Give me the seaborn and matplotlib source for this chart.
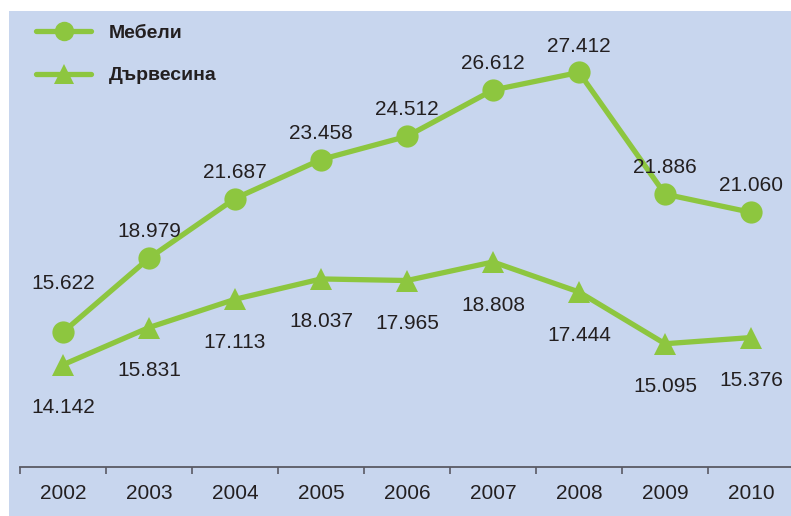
import numpy as np
import pandas as pd
import matplotlib
matplotlib.use('Agg')
import matplotlib.pyplot as plt
from matplotlib.patches import Rectangle
from matplotlib.lines import Line2D
import seaborn as sns

years = [2002, 2003, 2004, 2005, 2006, 2007, 2008, 2009, 2010]
furniture = [15.622, 18.979, 21.687, 23.458, 24.512, 26.612, 27.412, 21.886, 21.060]
wood = [14.142, 15.831, 17.113, 18.037, 17.965, 18.808, 17.444, 15.095, 15.376]
series_names = ['Мебели', 'Дървесина']

green = '#8dc63f'
panel = '#c8d6ee'
text_col = '#231f20'

df = pd.concat([
    pd.DataFrame({'year': years, 'value': furniture, 'series': series_names[0]}),
    pd.DataFrame({'year': years, 'value': wood, 'series': series_names[1]}),
])

sns.set_style('white')
plt.rcParams['font.family'] = ['Liberation Sans', 'DejaVu Sans']

fig = plt.figure(figsize=(7.91, 5.16), dpi=100)
fig.patches.append(Rectangle((9 / 791, 0), 1, (516 - 11) / 516, transform=fig.transFigure,
                             facecolor=panel, edgecolor='none', zorder=-10))
ax = fig.add_axes([20 / 791, 49 / 516, 771 / 791, 456 / 516])
ax.set_facecolor('none')
ax.set_zorder(1)

sns.lineplot(data=df, x='year', y='value', style='series', markers=['o', '^'],
             dashes=False, color=green, linewidth=3.8, markersize=16,
             markeredgewidth=0, ax=ax, legend=False)

ax.set_xlim(2001.5, 2010.465)
ax.set_ylim(9.5, 30.2)

# value labels
for i, (y, v) in enumerate(zip(years, furniture)):
    off = 35 if i == 0 else 19
    ax.annotate(f'{v:.3f}', (y, v), xytext=(0, off), textcoords='offset points',
                ha='center', va='center', fontsize=15, color=text_col)
for y, v in zip(years, wood):
    ax.annotate(f'{v:.3f}', (y, v), xytext=(0, -31), textcoords='offset points',
                ha='center', va='center', fontsize=15, color=text_col)

# axis styling
for s in ['top', 'right', 'left']:
    ax.spines[s].set_visible(False)
ax.spines['bottom'].set_color('#5a5a64')
ax.spines['bottom'].set_linewidth(1.3)
ax.set_yticks([])
ax.set_xticks(years)
ax.set_xticklabels([str(y) for y in years], fontsize=15, color=text_col)
ax.set_xticks(np.array(years) - 0.5, minor=True)
ax.tick_params(axis='x', which='major', bottom=True, length=0, pad=12)
ax.tick_params(axis='x', which='minor', bottom=True, length=5, width=1.2,
               color='#5a5a64', direction='out')
ax.set_xlabel('')
ax.set_ylabel('')

handles = [Line2D([], [], color=green, lw=3.8, marker='o', markersize=14, markeredgewidth=0),
           Line2D([], [], color=green, lw=3.8, marker='^', markersize=14, markeredgewidth=0)]
leg = fig.legend(handles, series_names, loc='upper left',
                 bbox_to_anchor=(36 / 791, (516 - 24) / 516), frameon=False,
                 borderpad=0, borderaxespad=0, handlelength=2.85, handletextpad=0.9,
                 labelspacing=1.3, prop={'weight': 'bold', 'size': 14})
for t in leg.get_texts():
    t.set_color(text_col)

fig.savefig('out.png', dpi=100, facecolor='white')
